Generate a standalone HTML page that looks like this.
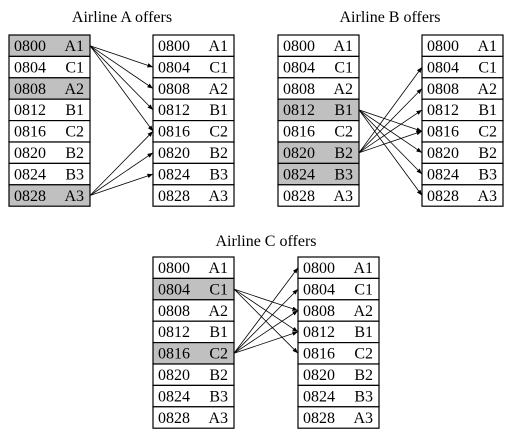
<!DOCTYPE html>
<html><head><meta charset="utf-8"><style>
html,body{margin:0;padding:0;background:#fff;width:512px;height:438px;overflow:hidden}
svg text{font-family:"Liberation Serif",serif;font-size:16px;fill:#000}
</style></head><body>
<svg id="chart" width="512" height="438" viewBox="0 0 512 438">
<defs><marker id="ah" viewBox="0 0 10 10" refX="10" refY="5" markerWidth="7" markerHeight="7" orient="auto"><path d="M0,1 L10,5 L0,9 z" fill="#000"/></marker></defs>
</svg>
<script>
const slots = ["0800","0804","0808","0812","0816","0820","0824","0828"];
const flights = ["A1","C1","A2","B1","C2","B2","B3","A3"];
const panelTitles = ["Airline A offers","Airline B offers","Airline C offers"];
const highlightA = [0,2,7];
const highlightB = [3,5,6];
const highlightC = [1,4];
const arrowsA = [[0,1],[0,2],[0,3],[0,4],[7,4],[7,5],[7,6]];
const arrowsB = [[3,4],[3,5],[3,6],[3,7],[5,1],[5,2],[5,3],[5,4]];
const arrowsC = [[1,2],[1,3],[1,4],[4,0],[4,1],[4,2],[4,3]];

const svg = document.getElementById('chart');
const NS = 'http://www.w3.org/2000/svg';
const ROW = 21.4, W = 81;
function mk(tag, attrs){const e=document.createElementNS(NS,tag);for(const k in attrs)e.setAttribute(k,attrs[k]);svg.appendChild(e);return e;}
function table(x, y, hl, name){
  for(let i=0;i<slots.length;i++){
    const r = mk('rect',{x:x,y:y+i*ROW,width:W,height:ROW,fill:hl.includes(i)?'#c0c0c0':'#fff',stroke:'#000','stroke-width':1.2});
    
    
    const t1 = mk('text',{x:x+5,y:y+i*ROW+16});
    t1.textContent = slots[i];
    
    
    const t2 = mk('text',{x:x+W-6,y:y+i*ROW+16,'text-anchor':'end'});
    t2.textContent = flights[i];
    
    
  }
}
function arrows(x1, x2, y, list, name){
  list.forEach(([a,b])=>{
    const l = mk('line',{x1:x1,y1:y+(a+0.5)*ROW,x2:x2,y2:y+(b+0.5)*ROW,stroke:'#000','stroke-width':0.8,'marker-end':'url(#ah)'});
    
    
  });
}
function title(x, y, txt, name){
  const t = mk('text',{x:x,y:y,'text-anchor':'middle'});
  t.textContent = txt;
  
  
}
const panels = [
  {tx:122,ty:22,lx:9,rx:153,y:35,hl:highlightA,ar:arrowsA,n:'airline-a'},
  {tx:390,ty:22,lx:278,rx:422,y:35,hl:highlightB,ar:arrowsB,n:'airline-b'},
  {tx:266,ty:246,lx:153,rx:298,y:257,hl:highlightC,ar:arrowsC,n:'airline-c'}
];
panels.forEach((p,i)=>{
  title(p.tx,p.ty,panelTitles[i],p.n+'-title');
  table(p.lx,p.y,p.hl,p.n+'-left');
  table(p.rx,p.y,[],p.n+'-right');
  arrows(p.lx+W,p.rx,p.y,p.ar,p.n);
});
</script>
</body></html>
